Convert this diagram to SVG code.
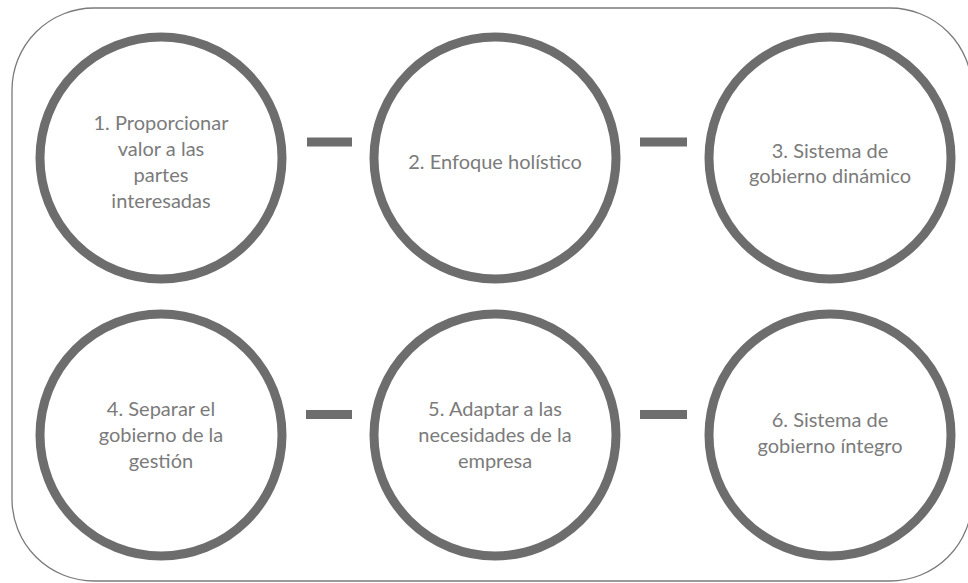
<svg xmlns="http://www.w3.org/2000/svg" width="968" height="583" viewBox="0 0 968 583">
<style>
.ring{fill:#ffffff;stroke:#6e6d6e;stroke-width:9}
.lbl{font-family:Lato,"Open Sans",sans-serif;font-size:20px;fill:#7b7b7b;text-anchor:middle}
.bar{stroke:#6e6d6e;stroke-width:9;stroke-linecap:butt}
</style>
<rect x="0" y="0" width="968" height="583" fill="#ffffff"/>
<rect id="frame" x="12" y="8" width="960" height="573" rx="82" ry="82" fill="none" stroke="#7a7a7a" stroke-width="1.3"/>
<g id="connectors">
<line class="bar" x1="307" y1="142" x2="352" y2="142"/>
<line class="bar" x1="640" y1="142" x2="687" y2="142"/>
<line class="bar" x1="306" y1="414.5" x2="352" y2="414.5"/>
<line class="bar" x1="640" y1="414.5" x2="687" y2="414.5"/>
</g>
<g id="n1"><circle class="ring" cx="161" cy="158" r="121"/>
<text class="lbl"><tspan x="161" y="130">1. Proporcionar</tspan><tspan x="161" y="156">valor a las</tspan><tspan x="161" y="182">partes</tspan><tspan x="161" y="208">interesadas</tspan></text></g>
<g id="n2"><circle class="ring" cx="495" cy="158" r="121"/>
<text class="lbl" x="495" y="169">2. Enfoque holístico</text></g>
<g id="n3"><circle class="ring" cx="830" cy="158" r="121"/>
<text class="lbl"><tspan x="830" y="158">3. Sistema de</tspan><tspan x="830" y="183">gobierno dinámico</tspan></text></g>
<g id="n4"><circle class="ring" cx="161" cy="435" r="121"/>
<text class="lbl"><tspan x="161" y="416">4. Separar el</tspan><tspan x="161" y="442">gobierno de la</tspan><tspan x="161" y="468">gestión</tspan></text></g>
<g id="n5"><circle class="ring" cx="495" cy="435" r="121"/>
<text class="lbl"><tspan x="495" y="416">5. Adaptar a las</tspan><tspan x="495" y="442">necesidades de la</tspan><tspan x="495" y="468">empresa</tspan></text></g>
<g id="n6"><circle class="ring" cx="830" cy="435" r="121"/>
<text class="lbl"><tspan x="830" y="427">6. Sistema de</tspan><tspan x="830" y="453">gobierno íntegro</tspan></text></g>
</svg>
